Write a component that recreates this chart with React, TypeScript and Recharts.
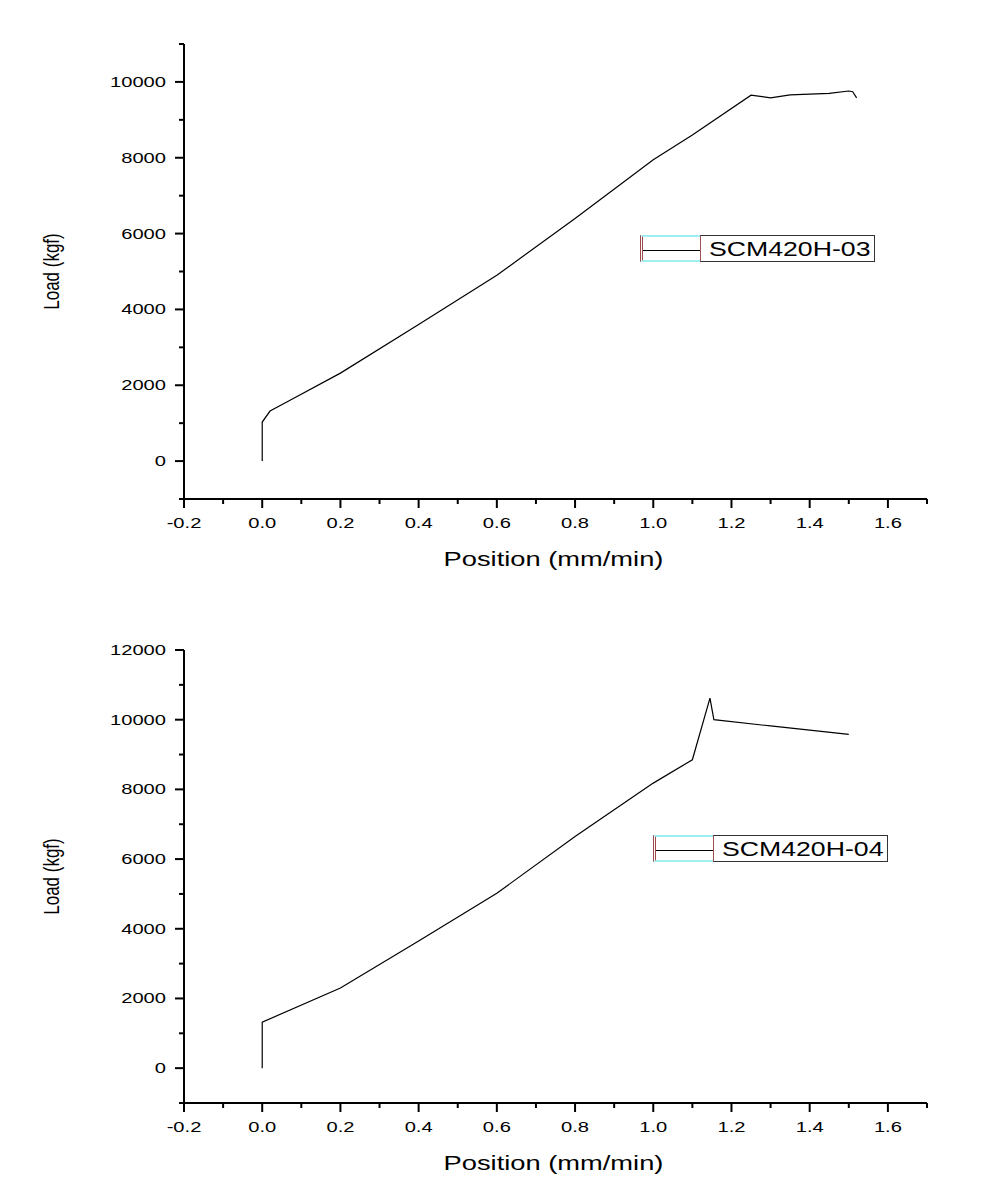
import React from "react";
import { LineChart, Line, XAxis, YAxis, Legend } from "recharts";

const position03 = [0, 0, 0.02, 0.07, 0.2, 0.4, 0.6, 0.8, 1.0, 1.1, 1.25, 1.3, 1.35, 1.45, 1.5, 1.51, 1.52];
const load03 = [0, 1030, 1320, 1600, 2320, 3600, 4900, 6400, 7950, 8600, 9650, 9580, 9660, 9700, 9760, 9740, 9580];

const position04 = [0, 0, 0.2, 0.4, 0.6, 0.8, 1.0, 1.1, 1.145, 1.155, 1.3, 1.5];
const load04 = [0, 1320, 2300, 3650, 5020, 6650, 8180, 8850, 10620, 10000, 9820, 9580];

const xTicks = [-0.2, -0.1, 0, 0.1, 0.2, 0.3, 0.4, 0.5, 0.6, 0.7, 0.8, 0.9, 1.0, 1.1, 1.2, 1.3, 1.4, 1.5, 1.6, 1.7];
const xLabels = [-0.2, 0, 0.2, 0.4, 0.6, 0.8, 1.0, 1.2, 1.4, 1.6];

const yTicksTop = [-1000, 0, 1000, 2000, 3000, 4000, 5000, 6000, 7000, 8000, 9000, 10000, 11000];
const yLabelsTop = [0, 2000, 4000, 6000, 8000, 10000];
const yTicksBottom = [-1000, 0, 1000, 2000, 3000, 4000, 5000, 6000, 7000, 8000, 9000, 10000, 11000, 12000];
const yLabelsBottom = [0, 2000, 4000, 6000, 8000, 10000, 12000];

const FONT = "'Liberation Sans', Arial, sans-serif";
const SX = 1.3; // the picture is stretched sideways

const toRows = (xs: number[], ys: number[]) => xs.map((x, i) => ({ x, load: ys[i] }));

const hasLabel = (list: number[], v: number) => list.some((l) => Math.abs(l - v) < 1e-6);

function XTick(props: any) {
  const { x, y, payload } = props;
  const major = hasLabel(xLabels, payload.value);
  return (
    <g>
      <line x1={x} y1={y} x2={x} y2={y + (major ? 9 : 5)} stroke="#000" strokeWidth={2} />
      {major && (
        <text
          transform={`translate(${x},${y + 29}) scale(${SX},1)`}
          textAnchor="middle"
          fontFamily={FONT}
          fontSize={15.5}
          fill="#000"
        >
          {payload.value.toFixed(1)}
        </text>
      )}
    </g>
  );
}

function makeYTick(labels: number[]) {
  return function YTick(props: any) {
    const { x, y, payload } = props;
    const major = hasLabel(labels, payload.value);
    return (
      <g>
        <line x1={x} y1={y} x2={x - (major ? 9 : 5)} y2={y} stroke="#000" strokeWidth={2} />
        {major && (
          <text
            transform={`translate(${x - 18},${y + 5}) scale(${SX},1)`}
            textAnchor="end"
            fontFamily={FONT}
            fontSize={15.5}
            fill="#000"
          >
            {payload.value}
          </text>
        )}
      </g>
    );
  };
}

function XTitle(props: any) {
  const { viewBox } = props;
  const cx = viewBox.x + viewBox.width / 2;
  return (
    <text
      transform={`translate(${cx - 2},${viewBox.y + 67}) scale(${SX},1)`}
      textAnchor="middle"
      fontFamily={FONT}
      fontSize={21}
      fill="#000"
    >
      Position (mm/min)
    </text>
  );
}

function YTitle(props: any) {
  const { viewBox } = props;
  const cy = viewBox.y + viewBox.height / 2;
  return (
    <text
      transform={`translate(59,${cy}) scale(${SX},1) rotate(-90)`}
      textAnchor="middle"
      fontFamily={FONT}
      fontSize={17}
      fill="#000"
    >
      Load (kgf)
    </text>
  );
}

function LegendBox({ name }: { name: string }) {
  return (
    <div style={{ display: "flex", height: 27, fontFamily: FONT }}>
      <div
        style={{
          width: 60,
          position: "relative",
          boxSizing: "border-box",
          borderTop: "2px solid #9ef0f2",
          borderBottom: "2px solid #9ef0f2",
          borderLeft: "3px double #9a4a4a",
        }}
      >
        <div style={{ position: "absolute", left: 0, right: 0, top: 13, height: 1, background: "#000" }} />
      </div>
      <div
        style={{
          boxSizing: "border-box",
          border: "1px solid #333",
          borderLeft: "1px solid #a05050",
          height: 27,
          width: 175,
          lineHeight: "25px",
          fontSize: 20.5,
          paddingLeft: 8,
          overflow: "hidden",
          whiteSpace: "nowrap",
        }}
      >
        <span style={{ display: "inline-block", transform: `scaleX(${SX})`, transformOrigin: "left center" }}>{name}</span>
      </div>
    </div>
  );
}

function Panel({
  rows,
  name,
  height,
  top,
  xAxisHeight,
  yDomain,
  yTicks,
  yLabels,
  legendPos,
}: {
  rows: { x: number; load: number }[];
  name: string;
  height: number;
  top: number;
  xAxisHeight: number;
  yDomain: [number, number];
  yTicks: number[];
  yLabels: number[];
  legendPos: { left: number; top: number };
}) {
  return (
    <LineChart width={1008} height={height} data={rows} margin={{ top, right: 81, bottom: 0, left: 0 }}>
      <XAxis
        dataKey="x"
        type="number"
        domain={[-0.2, 1.7]}
        ticks={xTicks}
        interval={0}
        height={xAxisHeight}
        axisLine={{ stroke: "#000", strokeWidth: 2 }}
        tickLine={false}
        tickSize={0}
        tickMargin={0}
        tick={<XTick />}
        label={<XTitle />}
        allowDataOverflow
      />
      <YAxis
        type="number"
        domain={yDomain}
        ticks={yTicks}
        interval={0}
        width={184}
        axisLine={{ stroke: "#000", strokeWidth: 2 }}
        tickLine={false}
        tickSize={0}
        tickMargin={0}
        tick={makeYTick(yLabels)}
        label={<YTitle />}
        allowDataOverflow
      />
      <Legend
        layout="horizontal"
        verticalAlign="middle"
        align="center"
        wrapperStyle={{ left: legendPos.left, top: legendPos.top, width: "auto" }}
        content={() => <LegendBox name={name} />}
      />
      <Line
        dataKey="load"
        name={name}
        type="linear"
        stroke="#000"
        strokeWidth={1.2}
        dot={false}
        isAnimationActive={false}
      />
    </LineChart>
  );
}

export default function App() {
  return (
    <div style={{ position: "absolute", left: 0, top: 0, width: 1008, height: 1194, background: "#fff" }}>
      <div style={{ position: "absolute", left: 0, top: 0 }}>
        <Panel
          rows={toRows(position03, load03)}
          name="SCM420H-03"
          height={600}
          top={44}
          xAxisHeight={101}
          yDomain={[-1000, 11000]}
          yTicks={yTicksTop}
          yLabels={yLabelsTop}
          legendPos={{ left: 640, top: 235 }}
        />
      </div>
      <div style={{ position: "absolute", left: 0, top: 600 }}>
        <Panel
          rows={toRows(position04, load04)}
          name="SCM420H-04"
          height={594}
          top={50}
          xAxisHeight={91}
          yDomain={[-1000, 12000]}
          yTicks={yTicksBottom}
          yLabels={yLabelsBottom}
          legendPos={{ left: 653, top: 235 }}
        />
      </div>
    </div>
  );
}
